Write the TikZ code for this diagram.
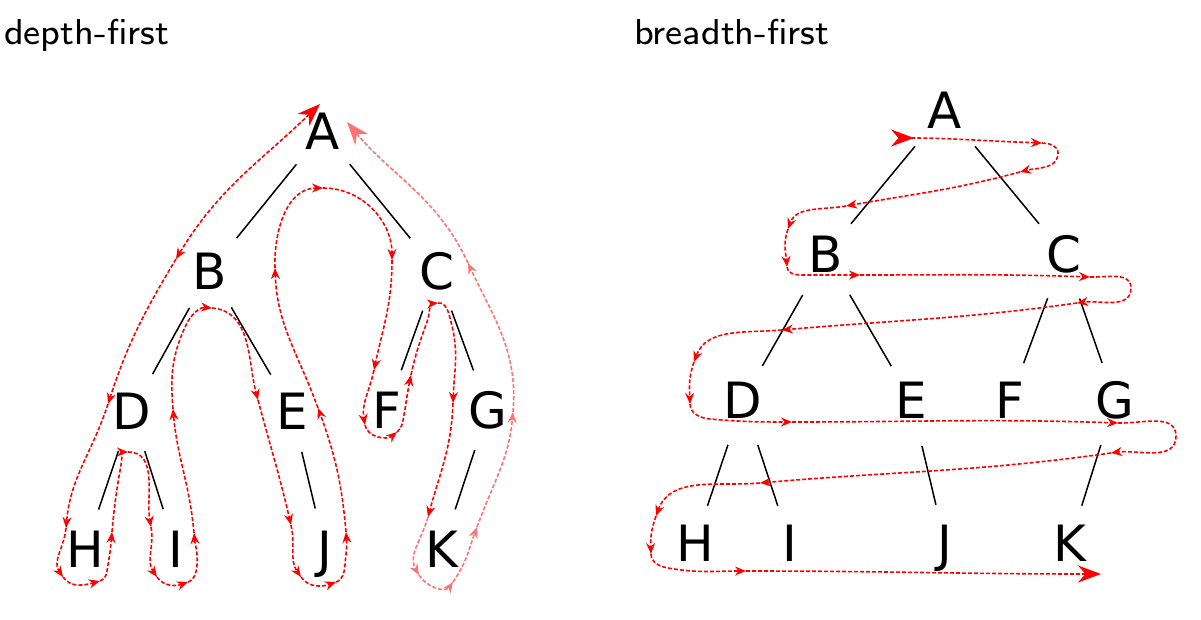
\documentclass[tikz,border=0pt]{standalone}
\usepackage{fontspec}
\newfontfamily\dejavu{DejaVu Sans}
\newfontfamily\ttlfont{lmsans8-regular.otf}
\usetikzlibrary{arrows.meta}
\tikzset{
  BigS/.tip={Stealth[length=23pt,width=17pt]},
  SmS/.tip={Stealth[length=11pt,width=9pt]}
}
\begin{document}
\begin{tikzpicture}[x=1pt,y=-1pt,
  tn/.style={circle, minimum size=78pt, inner sep=0pt, text height=36.5pt, text depth=0pt, font=\dejavu\fontsize{50}{50}\selectfont},
  tedge/.style={line width=1.5pt, black, shorten <=3pt, shorten >=3pt},
  bedge/.style={line width=1.5pt, black, shorten <=8pt},
  ttl/.style={anchor=base west, inner sep=0pt, font=\ttlfont\fontsize{36}{40}\selectfont},
  trav/.style={red, line width=1.6pt, dash pattern=on 4pt off 2pt, -{SmS}},
  travl/.style={trav, red!55}
]
\useasboundingbox (0,0) rectangle (1201,620);

% titles
\node[ttl] (t1) at (4,45) {depth-first};
\node[ttl] (t2) at (634,45) {breadth-first};

% ---------- depth-first tree ----------
\node[tn] (dA) at (323,131.5) {A};
\node[tn] (dB) at (210,271) {B};
\node[tn] (dC) at (437,271) {C};
\node[tn] (dD) at (132,411) {D};
\node[tn] (dE) at (292,411) {E};
\node[tn] (dF) at (387,410) {F};
\node[tn] (dG) at (488,410) {G};
\node[tn] (dH) at (85,549.5) {H};
\node[tn] (dI) at (176,549.5) {I};
\node[tn] (dJ) at (325,549.5) {J};
\node[tn] (dK) at (442,549.5) {K};
\draw[tedge] (dA) -- (dB);
\draw[tedge] (dA) -- (dC);
\draw[tedge] (dB) -- (dD);
\draw[tedge] (dB) -- (dE);
\draw[tedge] (dC) -- (dF);
\draw[tedge] (dC) -- (dG);
\draw[tedge] (dD) -- (dH);
\draw[tedge] (dD) -- (dI);
\draw[tedge] (dE) -- (dJ);
\draw[tedge] (dG) -- (dK);

% ---------- breadth-first tree ----------
\node[tn] (bA) at (945,110) {A};
\node[tn] (bB) at (826,254) {B};
\node[tn] (bC) at (1064,254) {C};
\node[tn] (bD) at (743,400) {D};
\node[tn] (bE) at (911,400) {E};
\node[tn] (bF) at (1010,400) {F};
\node[tn] (bG) at (1115,400) {G};
\node[tn] (bH) at (695,543) {H};
\node[tn] (bI) at (790,543) {I};
\node[tn] (bJ) at (945,543) {J};
\node[tn] (bK) at (1070,543) {K};
\draw[bedge] (bA) -- (bB);
\draw[bedge] (bA) -- (bC);
\draw[bedge] (bB) -- (bD);
\draw[bedge] (bB) -- (bE);
\draw[bedge] (bC) -- (bF);
\draw[bedge] (bC) -- (bG);
\draw[bedge] (bD) -- (bH);
\draw[bedge] (bD) -- (bI);
\draw[bedge] (bE) -- (bJ);
\draw[bedge] (bG) -- (bK);

% ---------- depth-first traversal ----------
\coordinate (d0) at (320,104);
\coordinate (d1) at (176,259);
\coordinate (d2) at (108,404);
\coordinate (d3) at (66,528);
\coordinate (d3b) at (63,577);
\coordinate (d4) at (100,581);
\coordinate (d4a) at (108,565);
\coordinate (d5) at (112,532);
\coordinate (d5a) at (121,465);
\coordinate (d6) at (128,452);
\coordinate (d7) at (151,527);
\coordinate (d7b) at (157,577);
\coordinate (d8) at (188,582);
\coordinate (d8a) at (197,565);
\coordinate (d9) at (194,533);
\coordinate (d10) at (173,409);
\coordinate (d10a) at (186,325);
\coordinate (d11) at (212,308);
\coordinate (d12) at (258,400);
\coordinate (d13) at (291,525);
\coordinate (d13b) at (301,577);
\coordinate (d14) at (336,582);
\coordinate (d14a) at (345,565);
\coordinate (d15) at (346,532);
\coordinate (d16) at (318,408);
\coordinate (d17) at (275,268);
\coordinate (d18) at (323,188);
\coordinate (d19) at (392,260);
\coordinate (d20) at (374,370);
\coordinate (d20b) at (365,425);
\coordinate (d21) at (397,432);
\coordinate (d21a) at (404,415);
\coordinate (d22) at (411,375);
\coordinate (d22a) at (427,322);
\coordinate (d23) at (438,303);
\coordinate (d23a) at (451,322);
\coordinate (d24) at (453,403);
\coordinate (d25) at (428,517);
\coordinate (d25b) at (419,575);
\coordinate (d26) at (453,582);
\coordinate (d27) at (477,527);
\coordinate (d28) at (513,412);
\coordinate (d29) at (468,263);
\coordinate (d30) at (347,122);

\draw[trav, {BigS}-{SmS}] (d0) to[out=224,in=59] (d1);
\draw[trav] (d1) to[out=239,in=72] (d2);
\draw[trav] (d2) to[out=252,in=85] (d3);
\draw[trav] (d3) to[out=265,in=125] (d3b);
\draw[trav] (d3b) to[out=305,in=195] (d4);
\draw[trav] (d4) to[out=15,in=260] (d4a) to[out=80,in=265] (d5);
\draw[trav] (d5) to[out=85,in=260] (d5a) to[out=80,in=180] (d6);
\draw[trav] (d6) to[out=0,in=100] (d7);
\draw[trav] (d7) to[out=280,in=125] (d7b);
\draw[trav] (d7b) to[out=305,in=200] (d8);
\draw[trav] (d8) to[out=20,in=265] (d8a) to[out=85,in=275] (d9);
\draw[trav] (d9) to[out=95,in=275] (d10);
\draw[trav] (d10) to[out=95,in=245] (d10a) to[out=65,in=175] (d11);
\draw[trav] (d11) to[out=355,in=105] (d12);
\draw[trav] (d12) to[out=285,in=103] (d13);
\draw[trav] (d13) to[out=283,in=125] (d13b);
\draw[trav] (d13b) to[out=305,in=200] (d14);
\draw[trav] (d14) to[out=20,in=265] (d14a) to[out=85,in=275] (d15);
\draw[trav] (d15) to[out=95,in=290] (d16);
\draw[trav] (d16) to[out=110,in=272] (d17);
\draw[trav] (d17) to[out=92,in=180] (d18);
\draw[trav] (d18) to[out=0,in=90] (d19);
\draw[trav] (d19) to[out=270,in=78] (d20);
\draw[trav] (d20) to[out=258,in=100] (d20b);
\draw[trav] (d20b) to[out=280,in=220] (d21);
\draw[trav] (d21) to[out=40,in=260] (d21a) to[out=80,in=258] (d22);
\draw[trav] (d22) to[out=78,in=250] (d22a) to[out=70,in=185] (d23);
\draw[trav] (d23) to[out=5,in=105] (d23a) to[out=285,in=88] (d24);
\draw[trav] (d24) to[out=268,in=75] (d25);
\draw[travl] (d25) to[out=255,in=120] (d25b);
\draw[travl] (d25b) to[out=300,in=235] (d26);
\draw[travl] (d26) to[out=55,in=250] (d27);
\draw[travl] (d27) to[out=70,in=265] (d28);
\draw[travl] (d28) to[out=85,in=295] (d29);
\draw[travl, -{BigS}] (d29) to[out=115,in=310] (d30);

% ---------- breadth-first traversal ----------
\coordinate (b0) at (891,138);
\coordinate (b1) at (1042,143);
\coordinate (r1) at (1058,153);
\coordinate (b2) at (1020,172);
\coordinate (b3) at (846,206);
\coordinate (b4) at (788,229);
\coordinate (b5) at (787,267);
\coordinate (b5a) at (800,275);
\coordinate (b6) at (860,275);
\coordinate (b7) at (1090,277);
\coordinate (r2) at (1131,288);
\coordinate (b8) at (1077,303);
\coordinate (b9) at (782,330);
\coordinate (b10) at (694,362);
\coordinate (b11) at (690,404);
\coordinate (b11a) at (710,419);
\coordinate (b12) at (792,422);
\coordinate (b13) at (1118,423);
\coordinate (r3) at (1176,436);
\coordinate (b14) at (1111,453);
\coordinate (b15) at (760,483);
\coordinate (b16) at (656,516);
\coordinate (b17) at (651,554);
\coordinate (b17a) at (668,568);
\coordinate (b18) at (746,571);
\coordinate (b19) at (1101,574);

\draw[trav, {BigS[reversed]}-{SmS}] (b0) to[out=0,in=178] (b1);
\draw[trav] (b1) to[out=358,in=90] (r1) to[out=270,in=15] (b2);
\draw[trav] (b2) to[out=195,in=10] (b3);
\draw[trav] (b3) to[out=190,in=70] (b4);
\draw[trav] (b4) to[out=250,in=95] (b5);
\draw[trav] (b5) to[out=275,in=180] (b5a) -- (b6);
\draw[trav] (b6) to[out=0,in=178] (b7);
\draw[trav] (b7) to[out=358,in=90] (r2) to[out=270,in=8] (b8);
\draw[trav] (b8) to[out=188,in=5] (b9);
\draw[trav] (b9) to[out=185,in=70] (b10);
\draw[trav] (b10) to[out=250,in=92] (b11);
\draw[trav] (b11) to[out=272,in=175] (b11a) to[out=355,in=180] (b12);
\draw[trav] (b12) to[out=0,in=178] (b13);
\draw[trav] (b13) to[out=358,in=90] (r3) to[out=270,in=8] (b14);
\draw[trav] (b14) to[out=188,in=5] (b15);
\draw[trav] (b15) to[out=185,in=70] (b16);
\draw[trav] (b16) to[out=250,in=92] (b17);
\draw[trav] (b17) to[out=272,in=170] (b17a) to[out=350,in=180] (b18);
\draw[trav, -{BigS}] (b18) to[out=0,in=180] (b19);
\end{tikzpicture}
\end{document}
